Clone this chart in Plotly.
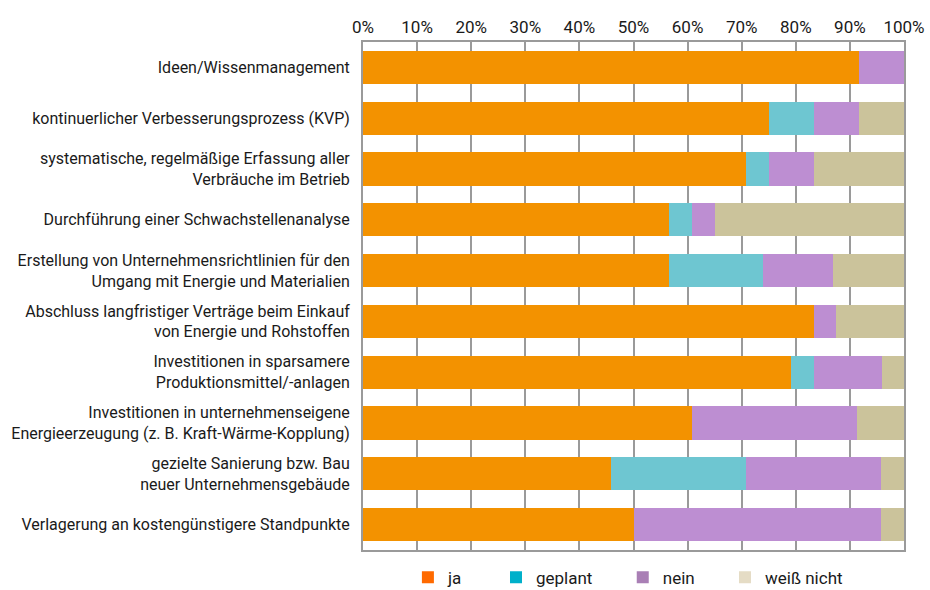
import plotly.graph_objects as go

categories = [
    "Ideen/Wissenmanagement",
    "kontinuerlicher Verbesserungsprozess (KVP)",
    "systematische, regelmäßige Erfassung aller<br>Verbräuche im Betrieb",
    "Durchführung einer Schwachstellenanalyse",
    "Erstellung von Unternehmensrichtlinien für den<br>Umgang mit Energie und Materialien",
    "Abschluss langfristiger Verträge beim Einkauf<br>von Energie und Rohstoffen",
    "Investitionen in sparsamere<br>Produktionsmittel/-anlagen",
    "Investitionen in unternehmenseigene<br>Energieerzeugung (z. B. Kraft-Wärme-Kopplung)",
    "gezielte Sanierung bzw. Bau<br>neuer Unternehmensgebäude",
    "Verlagerung an kostengünstigere Standpunkte",
]

ja      = [91.7, 75.0, 70.8, 56.5, 56.5, 83.3, 79.2, 60.9, 45.8, 50.0]
geplant = [0.0,  8.3,  4.2,  4.3, 17.4,  0.0,  4.2,  0.0, 25.0,  0.0]
nein    = [8.3,  8.3,  8.3,  4.3, 13.0,  4.2, 12.5, 30.4, 25.0, 45.8]
weiss   = [0.0,  8.4, 16.7, 34.9, 13.1, 12.5,  4.1,  8.7,  4.2,  4.2]

series_names = ["ja", "geplant", "nein", "weiß nicht"]
series_values = [ja, geplant, nein, weiss]
bar_colors = ["#F39200", "#6EC6D1", "#BD8ED2", "#CBC39B"]
legend_colors = ["#FF6A00", "#00B0CA", "#A97FB5", "#E5DCC5"]

tick_vals = list(range(0, 101, 10))
tick_text = [f"{v}%" for v in tick_vals]

FONT = "Roboto, sans-serif"
PADS = ["\u00a0" * 6 + "\u2009", "\u00a0" * 6, "\u00a0" * 6, ""]

fig = go.Figure()
for name, vals, col in zip(series_names, series_values, bar_colors):
    fig.add_trace(go.Bar(
        y=categories, x=vals, orientation="h", name=name,
        marker=dict(color=col, line=dict(width=0)),
        showlegend=False, hoverinfo="x+y",
    ))
for name, col, pad in zip(series_names, legend_colors, PADS):
    fig.add_trace(go.Bar(
        y=[None], x=[None], orientation="h",
        name=name + pad,
        marker=dict(color=col, line=dict(width=0)),
        showlegend=True,
    ))

fig.update_layout(
    barmode="stack",
    bargap=0.35,
    width=930, height=590,
    margin=dict(l=363, r=26, t=42, b=40, autoexpand=False),
    paper_bgcolor="white", plot_bgcolor="white",
    font=dict(family=FONT, size=16, color="#1a1a1a"),
    legend=dict(
        orientation="h", x=0.083, xanchor="left", y=-0.019, yanchor="top",
        font=dict(family=FONT, size=17, color="#1a1a1a"),
        itemwidth=30, traceorder="normal",
    ),
    xaxis=dict(
        side="top", range=[0, 100], tickvals=tick_vals, ticktext=tick_text,
        showgrid=True, gridcolor="#9a9a9a", gridwidth=1.5,
        showline=True, linecolor="#9a9a9a", linewidth=2, mirror=True,
        ticks="", zeroline=False, automargin=False,
        tickfont=dict(family=FONT, size=17, color="#1a1a1a"),
        fixedrange=True,
    ),
    yaxis=dict(
        autorange="reversed", showgrid=False,
        showline=True, linecolor="#9a9a9a", linewidth=2, mirror=True,
        ticks="", ticklabelstandoff=8, automargin=False,
        tickfont=dict(family=FONT, size=16, color="#1a1a1a"),
        fixedrange=True,
    ),
)

fig.write_html(
    "out.html",
    config={"displayModeBar": False},
    post_script="document.body.style.margin='0';document.body.style.padding='0';",
)
